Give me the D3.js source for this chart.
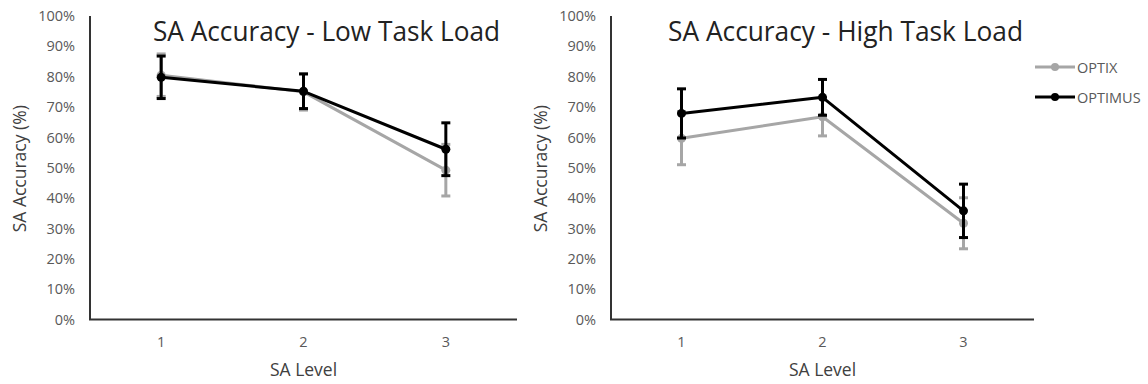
<!DOCTYPE html>
<html><head><meta charset="utf-8">
<script src="https://cdn.jsdelivr.net/npm/d3@7"></script>
<style>
body{margin:0;background:#fff;}
svg{display:block;font-family:"Open Sans",sans-serif;}
</style></head>
<body><svg id="c" width="1148" height="384"></svg>
<script>
const levels = ["1","2","3"];
const yTicks = [0,0.1,0.2,0.3,0.4,0.5,0.6,0.7,0.8,0.9,1.0];
const seriesNames = ["OPTIX","OPTIMUS"];
const seriesColors = ["#a6a6a6","#000000"];
const titles = ["SA Accuracy - Low Task Load","SA Accuracy - High Task Load"];

const lowOptix = [0.805, 0.750, 0.492];
const lowOptixErr = [0.070, 0.060, 0.085];
const lowOptimus = [0.798, 0.752, 0.561];
const lowOptimusErr = [0.070, 0.057, 0.087];

const highOptix = [0.597, 0.668, 0.317];
const highOptixErr = [0.087, 0.063, 0.084];
const highOptimus = [0.679, 0.732, 0.358];
const highOptimusErr = [0.081, 0.059, 0.088];

const panels = [
  {title: titles[0], x0: 90, x1: 517, titleX: 153, titleW: 347,
   series: [{v: lowOptix, e: lowOptixErr}, {v: lowOptimus, e: lowOptimusErr}]},
  {title: titles[1], x0: 611, x1: 1034, titleX: 668, titleW: 355,
   series: [{v: highOptix, e: highOptixErr}, {v: highOptimus, e: highOptimusErr}]}
];

const svg = d3.select("#c");
const yTop = 16, yBot = 319.5;
const y = d3.scaleLinear().domain([0,1]).range([yBot, yTop]);

panels.forEach(p => {
  const g = svg.append("g");
  const x = d3.scaleBand().domain(levels).range([p.x0, p.x1]);
  const cx = d => x(d) + x.bandwidth()/2;

  const ya = g.append("g").attr("transform", `translate(${p.x0},0)`)
    .call(d3.axisLeft(y).tickValues(yTicks).tickSize(0).tickPadding(15).tickFormat(d3.format(".0%")));
  ya.select(".domain").attr("stroke","#333").attr("stroke-width",2).attr("d",`M0,${yTop}V${yBot}`);
  ya.selectAll("text").attr("font-family","Open Sans").attr("font-size",14.5).attr("fill","#595959");

  const xa = g.append("g").attr("transform", `translate(0,${yBot})`)
    .call(d3.axisBottom(x).tickSize(0).tickPadding(17));
  xa.select(".domain").attr("stroke","#333").attr("stroke-width",2).attr("d",`M${p.x0-1},0H${p.x1}`);
  xa.selectAll("text").attr("font-family","Open Sans").attr("font-size",14.5).attr("fill","#595959");

  g.append("text").attr("transform", `translate(${p.x0-71},${(yTop+yBot)/2+1}) rotate(-90)`)
    .attr("text-anchor","middle").attr("dominant-baseline","central")
    .attr("font-size",17.5).attr("fill","#404040").text("SA Accuracy (%)");
  g.append("text").attr("x", (p.x0+p.x1)/2).attr("y", 376)
    .attr("text-anchor","middle").attr("font-size",17.5).attr("fill","#404040").text("SA Level");

  g.append("text").attr("x", p.titleX).attr("y", 41)
    .attr("font-size",28).attr("fill","#222")
    .attr("textLength", p.titleW).attr("lengthAdjust","spacingAndGlyphs")
    .text(p.title);

  const line = d3.line().x((d,i)=>cx(levels[i])).y(d=>y(d));
  p.series.forEach((s, si) => {
    const col = seriesColors[si];
    const sg = g.append("g");
    sg.append("path").datum(s.v).attr("d", line).attr("fill","none")
      .attr("stroke", col).attr("stroke-width",3).attr("stroke-linejoin","round");
    s.v.forEach((v,i) => {
      const xx = cx(levels[i]);
      const hi = y(v + s.e[i]), lo = y(v - s.e[i]);
      sg.append("line").attr("x1",xx).attr("x2",xx).attr("y1",hi).attr("y2",lo)
        .attr("stroke",col).attr("stroke-width",3);
      [hi, lo].forEach(yy => sg.append("line").attr("x1",xx-4.5).attr("x2",xx+4.5)
        .attr("y1",yy).attr("y2",yy).attr("stroke",col).attr("stroke-width",3));
    });
    sg.selectAll("circle").data(s.v).join("circle")
      .attr("cx",(d,i)=>cx(levels[i])).attr("cy",d=>y(d)).attr("r",4.5).attr("fill",col);
  });
});

const lg = svg.append("g");
seriesNames.forEach((n, i) => {
  const yy = 67 + i*30;
  lg.append("line").attr("x1",1035).attr("x2",1075).attr("y1",yy).attr("y2",yy)
    .attr("stroke",seriesColors[i]).attr("stroke-width",3);
  lg.append("circle").attr("cx",1055).attr("cy",yy).attr("r",4).attr("fill",seriesColors[i]);
  lg.append("text").attr("x",1077).attr("y",yy).attr("dominant-baseline","central")
    .attr("font-size",14.5).attr("fill","#595959").text(n);
});
</script></body></html>
